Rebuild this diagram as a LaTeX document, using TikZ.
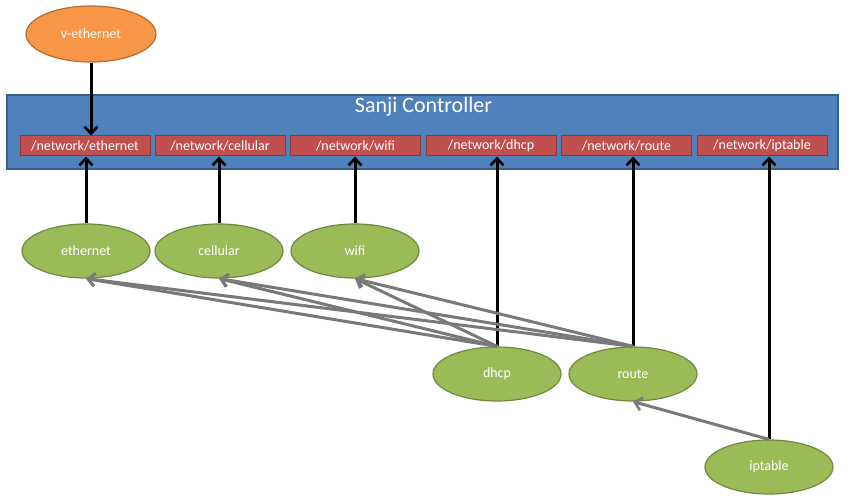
\documentclass[tikz,border=0pt]{standalone}
\usepackage{fontspec}
\setmainfont{Carlito}
\usetikzlibrary{shapes.geometric,arrows.meta}
\definecolor{ctrlblue}{HTML}{4F81BD}
\definecolor{ctrlborder}{HTML}{385D8A}
\definecolor{apired}{HTML}{C0504D}
\definecolor{apiborder}{HTML}{8C3836}
\definecolor{modgreen}{HTML}{9BBB59}
\definecolor{modborder}{HTML}{71893F}
\definecolor{vorange}{HTML}{F79646}
\definecolor{vborder}{HTML}{B66D31}
\tikzset{
  ctrlbox/.style={draw=ctrlborder, fill=ctrlblue, line width=1.2pt, minimum width=831pt, minimum height=74pt, inner sep=0pt},
  apibox/.style={draw=apiborder, fill=apired, line width=1pt, minimum width=130pt, minimum height=20pt, inner sep=0pt, text=white, font=\fontsize{14}{16}\selectfont},
  modnode/.style={ellipse, draw=modborder, fill=modgreen, line width=1.2pt, minimum width=128pt, minimum height=54pt, inner sep=0pt, text=white, font=\fontsize{14}{16}\selectfont},
  regline/.style={line width=3pt, -{Straight Barb[length=7pt,width=13pt,line width=2.6pt]}},
  depline/.style={gray!95!black, line width=3pt, -{Straight Barb[length=7pt,width=13pt,line width=2.6pt]}}
}
\begin{document}
\begin{tikzpicture}[x=1pt,y=-1pt]
    \useasboundingbox (0,0) rectangle (851,502);

    % Controller
    \node[ctrlbox] (ctrl) at (422.5,132) {};
    \node[text=white, font=\fontsize{22}{24}\selectfont] (title) at (423.5,107) {Sanji Controller};

    % Resources
    \foreach \n/\x in {ethernet/85, cellular/220, wifi/355.5, dhcp/491, route/626.5, iptable/762}
        \node[apibox] (api-\n) at (\x,146) {/network/\n};

    % Virtual interface
    \node[modnode, fill=vorange, draw=vborder, minimum width=130pt, minimum height=56pt] (vether) at (91,34) {v-ethernet};

    % Modules
    \foreach \n/\x/\y in {ethernet/86/251, cellular/219/251, wifi/355/251, dhcp/497/374, route/633/374, iptable/769/467}
        \node[modnode] (\n) at (\x,\y) {\n};

    % Registration
    \draw[regline] (vether.south) -- (vether.south |- api-ethernet.north);
    \foreach \n in {ethernet, cellular, wifi, dhcp, route, iptable}
        \draw[regline] (\n.north) -- (\n.north |- api-\n.south);

    % Dependencies
    \foreach \s in {dhcp, route}
        \foreach \t in {ethernet, cellular, wifi}
            \draw[depline] (\s.north) -- (\t.south);
    \draw[depline] (iptable.north) -- (route.south);
\end{tikzpicture}
\end{document}
